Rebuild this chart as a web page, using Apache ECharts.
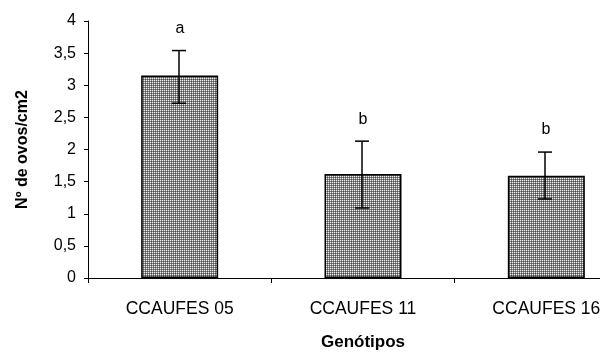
<!DOCTYPE html>
<html><head><meta charset="utf-8">
<script src="https://cdn.jsdelivr.net/npm/echarts@6/dist/echarts.min.js"></script>
<style>html,body{margin:0;padding:0;background:#fff}#c{width:600px;height:354px}</style>
</head><body><div id="c"></div>
<script>
const categories = ['CCAUFES 05', 'CCAUFES 11', 'CCAUFES 16'];
const means = [3.15, 1.62, 1.59];
const errLow = [2.72, 1.09, 1.23];
const errHigh = [3.54, 2.13, 1.96];
const letters = ['a', 'b', 'b'];
const yTicks = [0, 0.5, 1, 1.5, 2, 2.5, 3, 3.5, 4];

const pc = document.createElement('canvas');
pc.width = 2; pc.height = 2;
const g = pc.getContext('2d');
g.fillStyle = '#848484'; g.fillRect(0,0,2,2);
g.fillStyle = '#f0f0f0'; g.fillRect(0,0,1,1);
g.fillStyle = '#4c4c4c'; g.fillRect(1,1,1,1);

const chart = echarts.init(document.getElementById('c'));
const font = 'Arial, "Liberation Sans", sans-serif';
chart.setOption({
  animation: false,
  grid: { left: 88, top: 21, bottom: 76, width: 550, containLabel: false, outerBoundsMode: 'none' },
  xAxis: {
    type: 'category', data: categories,
    name: 'Genótipos', nameLocation: 'middle', nameGap: 56,
    nameTextStyle: { fontFamily: font, fontSize: 17, fontWeight: 'bold', color: '#000' },
    axisLine: { lineStyle: { color: '#000', width: 1 } },
    axisTick: { show: true, length: 5, lineStyle: { color: '#000' } },
    axisLabel: { fontFamily: font, fontSize: 17.5, color: '#000', margin: 22 }
  },
  yAxis: {
    type: 'value', min: yTicks[0], max: yTicks[yTicks.length - 1], interval: yTicks[1] - yTicks[0],
    name: 'Nº de ovos/cm2', nameLocation: 'middle', nameGap: 57, nameRotate: 90,
    nameTextStyle: { fontFamily: font, fontSize: 16, fontWeight: 'bold', color: '#000' },
    axisLine: { show: true, lineStyle: { color: '#000', width: 1 } },
    axisTick: { show: true, length: 4, lineStyle: { color: '#000' } },
    splitLine: { show: false },
    axisLabel: { fontFamily: font, fontSize: 16, color: '#000', margin: 12,
      formatter: v => String(v).replace('.', ',') }
  },
  series: [
    { type: 'bar', data: means, barWidth: '42%',
      itemStyle: { color: { image: pc, repeat: 'repeat' }, borderColor: '#000', borderWidth: 1.5 } },
    { type: 'custom', data: categories.map((c, i) => [i, errLow[i], errHigh[i]]),
      z: 10,
      renderItem: (params, api) => {
        const lo = api.coord([api.value(0), api.value(1)]);
        const hi = api.coord([api.value(0), api.value(2)]);
        const x = Math.round(lo[0]) - 1, hw = 7;
        const st = { stroke: '#000', lineWidth: 1.5 };
        return { type: 'group', children: [
          { type: 'line', shape: { x1: x, y1: lo[1], x2: x, y2: hi[1] }, style: st },
          { type: 'line', shape: { x1: x - hw, y1: lo[1], x2: x + hw, y2: lo[1] }, style: st },
          { type: 'line', shape: { x1: x - hw, y1: hi[1], x2: x + hw, y2: hi[1] }, style: st },
          { type: 'text', x: x + 1, y: hi[1] - 22, style: { text: letters[params.dataIndex], fill: '#000',
            font: '16px ' + font, textAlign: 'center', textVerticalAlign: 'middle' } }
        ]};
      }
    }
  ]
});
</script></body></html>
